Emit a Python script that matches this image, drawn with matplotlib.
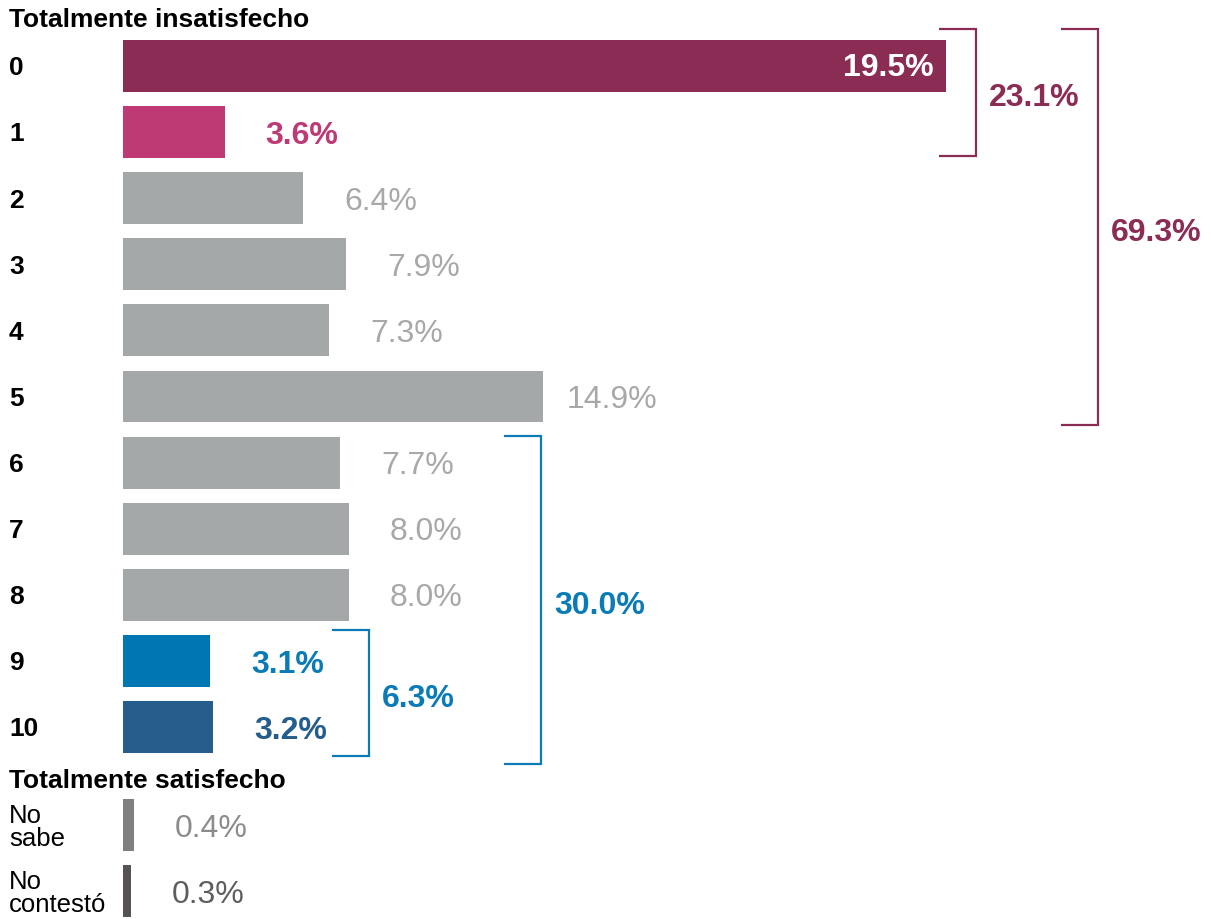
import matplotlib
matplotlib.use('Agg')
import matplotlib.pyplot as plt

plt.rcParams['font.family'] = ['Liberation Sans', 'DejaVu Sans']

# escala 0-10
categories = ['0', '1', '2', '3', '4', '5', '6', '7', '8', '9', '10']
# largo de barra (la barra 0 mide ~29.2 aunque la etiqueta dice 19.5%)
values = [29.2, 3.6, 6.4, 7.9, 7.3, 14.9, 7.7, 8.0, 8.0, 3.1, 3.2]
value_labels = ['19.5%', '3.6%', '6.4%', '7.9%', '7.3%', '14.9%',
                '7.7%', '8.0%', '8.0%', '3.1%', '3.2%']
bar_colors = ['#8B2C55', '#BE3A74', '#A4A8A9', '#A4A8A9', '#A4A8A9', '#A4A8A9',
              '#A4A8A9', '#A4A8A9', '#A4A8A9', '#0077B3', '#255E8C']
label_colors = ['white', '#BE3A74', '#A8A8A8', '#A8A8A8', '#A8A8A8', '#A8A8A8',
                '#A8A8A8', '#A8A8A8', '#A8A8A8', '#0A7BB6', '#255E8C']

extra_categories = ['No\nsabe', 'No\ncontestó']
extra_values = [0.4, 0.3]
extra_labels = ['0.4%', '0.3%']
extra_colors = ['#808080', '#575253']
extra_label_colors = ['#8C8C8C', '#5E5E5E']

# corchetes: (fila inicio, fila fin, texto, color)
groups = [(0, 1, '23.1%', '#8B2C55'),
          (0, 5, '69.3%', '#8B2C55'),
          (6, 10, '30.0%', '#0A7BB6'),
          (9, 10, '6.3%', '#0A7BB6')]

# layout (px -> unidades)
SC = 28.2      # px por punto porcentual
ROW = 66.1     # px por fila
X0 = 123       # px donde empieza la barra
Y0 = 67        # px centro fila 0

fig = plt.figure(figsize=(12.11, 9.2), dpi=100)
ax = fig.add_axes([0, 0, 1, 1])
ax.set_xlim(-X0 / SC, (1211 - X0) / SC)
ax.set_ylim((920 - Y0) / ROW, -Y0 / ROW)
ax.axis('off')

def px(v):
    return v / SC

bh = 52 / ROW
ypos = list(range(len(categories)))
ax.barh(ypos, values, height=bh, color=bar_colors, left=0)

for i, (cat, v, lab, lc) in enumerate(zip(categories, values, value_labels, label_colors)):
    ax.text(px(9 - X0), i + 0.02, cat, fontsize=19, fontweight='bold',
            ha='left', va='center', color='black')
    if lc == 'white':
        ax.text(v - px(13), i + 0.02, lab, fontsize=23, fontweight='bold',
                color=lc, ha='right', va='center')
    else:
        bold = lc != '#A8A8A8'
        ax.text(v + px(114), i + 0.04, lab, fontsize=23,
                fontweight='bold' if bold else 'normal',
                color=lc, ha='right', va='center')

extra_pos = [11.48, 12.48]
ax.barh(extra_pos, extra_values, height=bh, color=extra_colors)
for y, cat, v, lab, lc in zip(extra_pos, extra_categories, extra_values,
                              extra_labels, extra_label_colors):
    ax.text(px(9 - X0), y + 0.03, cat, fontsize=18.5, ha='left', va='center',
            color='black', linespacing=0.95)
    ax.text(v + px(113), y + 0.05, lab, fontsize=23, color=lc,
            ha='right', va='center')

ax.text(px(9 - X0), (27 - Y0) / ROW, 'Totalmente insatisfecho', fontsize=19,
        fontweight='bold', ha='left', va='baseline')
ax.text(px(9 - X0), (788 - Y0) / ROW, 'Totalmente satisfecho', fontsize=19,
        fontweight='bold', ha='left', va='baseline')

# posicion de cada corchete y extension vertical
bracket_x = [px(976 - X0), px(1098 - X0), px(541 - X0), px(369 - X0)]
bracket_ext = [(-0.56, 1.36), (-0.56, 5.43), (5.60, 10.56), (8.53, 10.44)]
tick = px(37)
for (a, b, lab, col), bx, (yt, yb) in zip(groups, bracket_x, bracket_ext):
    ax.plot([bx - tick, bx, bx, bx - tick], [yt, yt, yb, yb], color=col,
            lw=1.6, solid_joinstyle='miter', solid_capstyle='butt')
    ax.text(bx + px(13), (yt + yb) / 2 + 0.07, lab, fontsize=23, fontweight='bold',
            color=col, ha='left', va='center')

fig.savefig('out.png', dpi=100)
